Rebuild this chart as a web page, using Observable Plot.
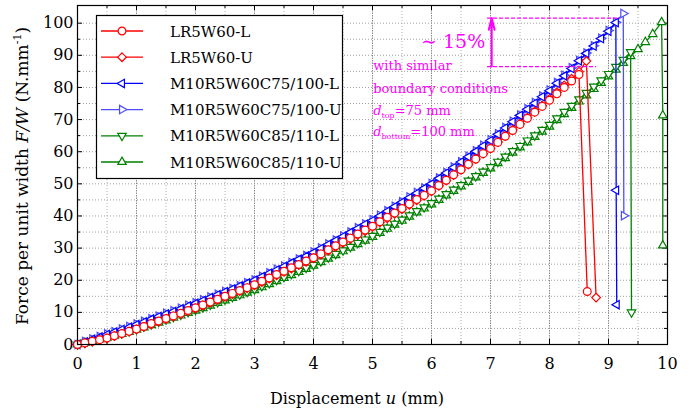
<!DOCTYPE html>
<html><head><meta charset="utf-8">
<script src="https://cdn.jsdelivr.net/npm/d3@7"></script>
<script src="https://cdn.jsdelivr.net/npm/@observablehq/plot@0.6"></script>
<style>
body{margin:0;background:#fff;}
#chart svg{display:block;}
</style></head><body><div id="chart"></div>
<script>
// ---------- data ----------
const disp = [0,0.125,0.25,0.375,0.5,0.625,0.75,0.875,1,1.125,1.25,1.375,1.5,1.625,1.75,1.875,
  2,2.125,2.25,2.375,2.5,2.625,2.75,2.875,3,3.125,3.25,3.375,3.5,3.625,3.75,3.875,
  4,4.125,4.25,4.375,4.5,4.625,4.75,4.875,5,5.125,5.25,5.375,5.5,5.625,5.75,5.875,
  6,6.125,6.25,6.375,6.5,6.625,6.75,6.875,7,7.125,7.25,7.375,7.5,7.625,7.75,7.875,
  8,8.125,8.25,8.375,8.5,8.625,8.75,8.875,9,9.125,9.25,9.375,9.5,9.625,9.75,9.875];

const seriesNames = ["LR5W60-L","LR5W60-U","M10R5W60C75/100-L","M10R5W60C75/100-U","M10R5W60C85/110-L","M10R5W60C85/110-U"];

const redL = [0,0.5,1.0,1.5,2.0,2.7,3.4,4.1, 4.8,5.6,6.5,7.3,8.1,8.9,9.7,10.6,
  11.4,12.3,13.2,14.1,15.0,15.9,16.8,17.7, 18.6,19.7,20.7,21.8,22.8,23.9,24.9,26.0,
  27.0,28.2,29.5,30.7,31.9,33.1,34.4,35.6, 36.8,38.2,39.6,40.9,42.3,43.7,45.1,46.4,
  47.8,49.5,51.1,52.8,54.4,56.1,57.7,59.4, 61.0,62.9,64.8,66.6,68.5,70.4,72.3,74.1,
  76.0,78.0,80.0,82.0,84.0];
const redLTailX = [8.64];
const redLTailY = [16.5];

const redU = [0,0.4,0.9,1.4,1.9,2.6,3.3,4.0, 4.7,5.5,6.3,7.1,7.9,8.7,9.5,10.4,
  11.2,12.1,13.0,13.9,14.8,15.7,16.6,17.5, 18.4,19.4,20.5,21.5,22.6,23.6,24.7,25.7,
  26.8,28.0,29.2,30.4,31.7,32.9,34.1,35.3, 36.6,38.0,39.3,40.7,42.1,43.5,44.9,46.3,
  47.7,49.4,51.0,52.7,54.4,56.0,57.7,59.4, 61.1,63.0,64.9,66.8,68.7,70.6,72.5,74.4,
  76.4,78.5,80.6,82.7,84.9,88.2];
const redUTailX = [8.79];
const redUTailY = [14.6];

const blueL = [0,0.8,1.6,2.3,3.1,3.9,4.7,5.4, 6.2,7.0,7.9,8.7,9.5,10.3,11.1,12.0,
  12.8,13.7,14.6,15.5,16.4,17.3,18.2,19.1, 20.0,21.1,22.2,23.2,24.3,25.4,26.5,27.5,
  28.6,29.9,31.1,32.4,33.6,34.9,36.1,37.4, 38.6,40.0,41.5,42.9,44.3,45.7,47.1,48.6,
  50.0,51.7,53.4,55.1,56.8,58.4,60.1,61.8, 63.5,65.4,67.4,69.3,71.3,73.2,75.1,77.1,
  79.0,81.3,83.6,85.9,88.3,90.6,92.9,95.2, 97.5,100.2];
const blueLTailX = [9.13, 9.14];
const blueLTailY = [48.0, 12.4];

const blueU = [0,0.9,1.7,2.5,3.3,4.0,4.8,5.6, 6.4,7.2,8.0,8.8,9.7,10.5,11.3,12.2,
  13.0,13.9,14.8,15.6,16.5,17.4,18.3,19.2, 20.1,21.2,22.3,23.4,24.4,25.5,26.6,27.7,
  28.8,30.0,31.3,32.5,33.8,35.0,36.3,37.5, 38.8,40.2,41.6,43.0,44.4,45.9,47.3,48.7,
  50.1,51.8,53.5,55.2,56.9,58.6,60.3,62.0, 63.7,65.6,67.5,69.5,71.4,73.4,75.3,77.3,
  79.2,81.5,83.8,86.1,88.4,90.7,93.0,95.3, 97.7,100.3,103.0];
const blueUTailX = [9.26];
const blueUTailY = [40.1];

const greenL = [0,0.6,1.1,1.7,2.2,2.9,3.5,4.2, 4.8,5.6,6.3,7.1,7.8,8.6,9.3,10.1,
  10.8,11.6,12.4,13.2,14.0,14.8,15.6,16.4, 17.2,18.2,19.1,20.1,21.0,22.0,22.9,23.9,
  24.8,25.9,27.1,28.2,29.3,30.4,31.6,32.7, 33.8,35.1,36.4,37.6,38.9,40.2,41.5,42.7,
  44.0,45.4,46.8,48.2,49.6,51.0,52.4,53.8, 55.2,56.9,58.5,60.2,61.8,63.5,65.1,66.8,
  68.4,70.4,72.4,74.3,76.3,78.3,80.3,82.2, 84.2,86.4,88.6,91.0];
const greenLTailX = [9.39];
const greenLTailY = [10.0];

const greenU = [0,0.5,1.0,1.6,2.1,2.7,3.3,3.9, 4.6,5.3,6.0,6.8,7.5,8.3,9.0,9.8,
  10.5,11.3,12.1,12.9,13.7,14.5,15.3,16.1, 16.9,17.8,18.8,19.7,20.7,21.6,22.6,23.5,
  24.5,25.6,26.7,27.8,29.0,30.1,31.2,32.3, 33.5,34.7,36.0,37.3,38.5,39.8,41.1,42.3,
  43.6,45.0,46.4,47.8,49.2,50.6,52.0,53.4, 54.8,56.4,58.0,59.7,61.3,62.9,64.6,66.2,
  67.8,69.8,71.7,73.6,75.6,77.5,79.5,81.4, 83.4,85.5,87.6,89.7,91.9,94.1,96.6];
const greenUTailX = [9.9, 9.92, 9.92];
const greenUTailY = [100.3, 71.3, 30.8];

const xMajor = [0,1,2,3,4,5,6,7,8,9,10];
const xMinor = [0.5,1.5,2.5,3.5,4.5,5.5,6.5,7.5,8.5,9.5];
const yMajor = [0,10,20,30,40,50,60,70,80,90,100];
const yMinor = [5,15,25,35,45,55,65,75,85,95];

// annotation (~15 % gain) in data units
const gainLevels = [101.6, 86.5];
const gainLineX1 = [6.95, 6.95];
const gainLineX2 = [9.2, 8.8];
const gainArrowX = 7.02;
const noteX = 5.02;
const noteLinesY = [86.8, 79.7, 72.8, 66.3];

// ---------- symbols ----------
function tri(angle) {
  return {draw(ctx, size) {
    const R = Math.sqrt(size / Math.PI) * 1.25;
    for (let i = 0; i < 3; i++) {
      const a = angle + i * 2 * Math.PI / 3;
      const px = R * Math.cos(a), py = R * Math.sin(a);
      if (i === 0) ctx.moveTo(px, py); else ctx.lineTo(px, py);
    }
    ctx.closePath();
  }};
}
const symLeft = tri(Math.PI), symRight = tri(0), symDown = tri(Math.PI / 2), symUp = tri(-Math.PI / 2);

const RED = "#ff0000", BLUE = "#0000ff", BLUE2 = "#4d4dff", GREEN = "#008000", MAG = "#ff00ff";

function build(ys, tx, ty) {
  const pts = ys.map((y, i) => ({x: disp[i], y}));
  tx.forEach((x, i) => pts.push({x, y: ty[i]}));
  return pts;
}

const series = [
  {name: seriesNames[0], data: build(redL, redLTailX, redLTailY), color: RED, sym: d3.symbolCircle},
  {name: seriesNames[1], data: build(redU, redUTailX, redUTailY), color: RED, sym: d3.symbolDiamond2},
  {name: seriesNames[2], data: build(blueL, blueLTailX, blueLTailY), color: BLUE, sym: symLeft},
  {name: seriesNames[3], data: build(blueU, blueUTailX, blueUTailY), color: BLUE2, sym: symRight},
  {name: seriesNames[4], data: build(greenL, greenLTailX, greenLTailY), color: GREEN, sym: symDown},
  {name: seriesNames[5], data: build(greenU, greenUTailX, greenUTailY), color: GREEN, sym: symUp}
];

const W = 690, H = 412, mL = 77, mR = 23, mT = 5, mB = 68;
const plotH = H - mT - mB, plotW = W - mL - mR;
const R = 3.9;

const seriesMarks = [];
[...series].reverse().forEach(s => {
  seriesMarks.push(Plot.line(s.data, {x: "x", y: "y", stroke: s.color, strokeWidth: 1.3}));
  seriesMarks.push(Plot.dot(s.data, {x: "x", y: "y", symbol: s.sym, r: R, stroke: s.color, fill: "white", strokeWidth: 1.2}));
});

const plot = Plot.plot({
  width: W, height: H, marginLeft: mL, marginRight: mR, marginTop: mT, marginBottom: mB,
  x: {domain: [0, 10]},
  y: {domain: [0, 105.5]},
  style: {fontFamily: "'DejaVu Serif', serif", fontSize: "16px", background: "white", color: "black", overflow: "visible"},
  marks: [
    Plot.ruleX(xMinor, {stroke: "#b0b0b0", strokeDasharray: "1,2"}),
    Plot.ruleX(xMajor.slice(1, 10), {stroke: "#8a8a8a", strokeDasharray: "1.5,1"}),
    Plot.ruleY(yMinor.concat(yMajor.slice(1)), {stroke: "#a0a0a0", strokeDasharray: "1,2"}),
    // inward ticks on all four sides
    Plot.ruleX(xMajor, {insetTop: plotH - 5, stroke: "black"}),
    Plot.ruleX(xMinor, {insetTop: plotH - 3, stroke: "black"}),
    Plot.ruleX(xMajor, {insetBottom: plotH - 5, stroke: "black"}),
    Plot.ruleX(xMinor, {insetBottom: plotH - 3, stroke: "black"}),
    Plot.ruleY(yMajor, {insetRight: plotW - 5, stroke: "black"}),
    Plot.ruleY(yMinor, {insetRight: plotW - 3, stroke: "black"}),
    Plot.ruleY(yMajor, {insetLeft: plotW - 5, stroke: "black"}),
    Plot.ruleY(yMinor, {insetLeft: plotW - 3, stroke: "black"}),
    Plot.axisX(xMajor, {tickSize: 0, tickPadding: 13, label: null, fontSize: 16}),
    Plot.axisY(yMajor, {tickSize: 0, tickPadding: 4, label: null, fontSize: 16}),
    ...seriesMarks,
    Plot.ruleY([0, 1], {y: i => gainLevels[i], x1: i => gainLineX1[i], x2: i => gainLineX2[i], stroke: MAG, strokeWidth: 1.3, strokeDasharray: "4,2"}),
    Plot.arrow([0], {x1: gainArrowX, x2: gainArrowX, y1: gainLevels[1], y2: gainLevels[0], stroke: MAG, strokeWidth: 2, headLength: 9, headAngle: 28}),
    Plot.frame({stroke: "black", strokeWidth: 1.2})
  ]
});
document.getElementById("chart").appendChild(plot);

const svg = d3.select(plot);
const sx = plot.scale("x"), sy = plot.scale("y");

// axis titles
svg.append("text").attr("x", 357).attr("y", 404).attr("text-anchor", "middle")
  .attr("font-size", 16).attr("fill", "black")
  .call(t => { t.append("tspan").text("Displacement "); t.append("tspan").attr("font-style", "italic").text("u"); t.append("tspan").text(" (mm)"); });
svg.append("text").attr("transform", "translate(28,176) rotate(-90)").attr("text-anchor", "middle")
  .attr("font-size", 17).attr("fill", "black")
  .call(t => {
    t.append("tspan").text("Force per unit width ");
    t.append("tspan").attr("font-style", "italic").text("F/W");
    t.append("tspan").text(" (N.mm");
    t.append("tspan").attr("font-size", 11).attr("dy", -7).text("-1");
    t.append("tspan").attr("dy", 7).text(")");
  });

// annotation texts
const note = svg.append("g").attr("fill", MAG).attr("font-size", 13).attr("text-anchor", "start");
note.append("text").attr("x", sx.apply(6.92)).attr("y", sy.apply(92.0)).attr("text-anchor", "end").attr("font-size", 19).text("∼ 15%");
note.append("text").attr("x", sx.apply(noteX)).attr("y", sy.apply(noteLinesY[0]) + 5).text("with similar");
note.append("text").attr("x", sx.apply(noteX)).attr("y", sy.apply(noteLinesY[1]) + 5).text("boundary conditions");
note.append("text").attr("x", sx.apply(noteX)).attr("y", sy.apply(noteLinesY[2]) + 5).call(t => {
  t.append("tspan").attr("font-style", "italic").text("d");
  t.append("tspan").attr("font-size", 8).attr("dy", 3).text("top");
  t.append("tspan").attr("dy", -3).text("=75 mm");
});
note.append("text").attr("x", sx.apply(noteX)).attr("y", sy.apply(noteLinesY[3]) + 5).call(t => {
  t.append("tspan").attr("font-style", "italic").text("d");
  t.append("tspan").attr("font-size", 8).attr("dy", 3).text("bottom");
  t.append("tspan").attr("dy", -3).text("=100 mm");
});

// legend
const lg = svg.append("g").attr("text-anchor", "start");
lg.append("rect").attr("x", 96.5).attr("y", 15.5).attr("width", 246).attr("height", 163)
  .attr("fill", "white").attr("stroke", "black").attr("stroke-width", 1.2);
series.forEach((s, i) => {
  const cy = 31 + i * 26.2;
  lg.append("line").attr("x1", 101).attr("x2", 143).attr("y1", cy).attr("y2", cy)
    .attr("stroke", s.color).attr("stroke-width", 1.3);
  lg.append("path").attr("d", d3.symbol(s.sym, Math.PI * R * R)())
    .attr("transform", `translate(122,${cy})`).attr("fill", "white").attr("stroke", s.color).attr("stroke-width", 1.2);
  lg.append("text").attr("x", 170).attr("y", cy + 5.5).attr("font-size", 15).attr("fill", "black").text(s.name);
});
</script></body></html>
